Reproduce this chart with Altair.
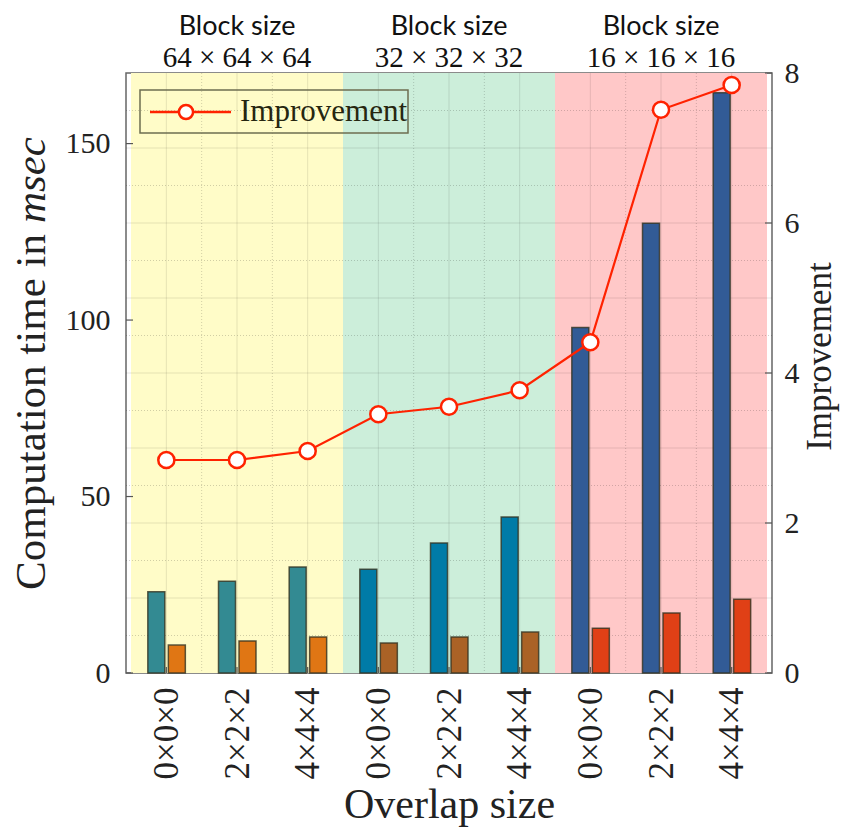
import json
import altair as alt
import pandas as pd

# ---------------- data ----------------
overlap_labels = ["0×0×0", "2×2×2", "4×4×4", "0×0×0", "2×2×2", "4×4×4", "0×0×0", "2×2×2", "4×4×4"]
block_labels = ["64 × 64 × 64", "32 × 32 × 32", "16 × 16 × 16"]
time_a = [23.0, 26.0, 30.0, 29.4, 36.8, 44.2, 97.9, 127.4, 164.4]
time_b = [7.9, 9.1, 10.2, 8.5, 10.2, 11.6, 12.7, 17.0, 20.9]
improvement = [2.84, 2.84, 2.96, 3.45, 3.55, 3.77, 4.41, 7.51, 7.84]
color_a = ["#338A92", "#007BA7", "#325B96"]
color_b = ["#E07614", "#AA6226", "#E04016"]
bg_colors = ["#FFFCC8", "#CCEEDA", "#FFC8C8"]
left_ticks = [0, 50, 100, 150]
right_ticks = [0, 2, 4, 6, 8]
right_grid_major = [1, 2, 3, 4, 5, 6, 7]
right_grid_minor = [0.5, 1.5, 2.5, 3.5, 4.5, 5.5, 6.5, 7.5]
x_grid_major = [1, 2, 3, 4, 5, 6, 7, 8, 9]
x_grid_minor = [1.5, 2.5, 4.5, 5.5, 7.5, 8.5]

W, H = 646, 600
SERIF = "Liberation Serif"
RED = "#FF2200"

n = len(overlap_labels)
df = pd.DataFrame({
    "pos": list(range(1, n + 1)),
    "label": overlap_labels,
    "ta": time_a,
    "tb": time_b,
    "imp": improvement,
    "ca": [color_a[i // 3] for i in range(n)],
    "cb": [color_b[i // 3] for i in range(n)],
})
bg = pd.DataFrame({
    "start": [3 * i + 0.5 for i in range(3)],
    "end": [3 * i + 3.5 for i in range(3)],
    "center": [3 * i + 2 for i in range(3)],
    "block": block_labels,
    "col": bg_colors,
})

label_expr = "%s[datum.value - 1]" % json.dumps(overlap_labels, ensure_ascii=False)
xscale = alt.Scale(domain=[0.5, 9.5], nice=False, zero=False)
xaxis = alt.Axis(values=list(range(1, n + 1)), labelExpr=label_expr, labelAngle=270,
                 labelFont=SERIF, labelFontSize=35, labelColor="#222", labelPadding=14,
                 ticks=False, domain=False, grid=False,
                 title="Overlap size", titleFont=SERIF, titleFontSize=42,
                 titleFontWeight="normal", titleColor="#222", titlePadding=6)


def X(field):
    return alt.X(field, type="quantitative", scale=xscale, axis=xaxis)


lscale = alt.Scale(domain=[0, 170], nice=False, zero=True)
rscale = alt.Scale(domain=[0, 8], nice=False, zero=True)

base = alt.Chart(df)

background = alt.Chart(bg).mark_rect(opacity=1).encode(
    x=X("start"), x2="end", color=alt.Color("col:N", scale=None))

vgrid_major = alt.Chart(pd.DataFrame({"g": x_grid_major})).mark_rule(
    color="#000", opacity=0.10, strokeWidth=1).encode(x=X("g"))
vgrid_minor = alt.Chart(pd.DataFrame({"g": x_grid_minor})).mark_rule(
    color="#000", opacity=0.18, strokeWidth=1, strokeDash=[1, 2]).encode(x=X("g"))

hgrid_major = alt.Chart(pd.DataFrame({"g": right_grid_major})).mark_rule(
    color="#000", opacity=0.10, strokeWidth=1).encode(
    y=alt.Y("g:Q", scale=rscale, axis=None))
hgrid_minor = alt.Chart(pd.DataFrame({"g": right_grid_minor})).mark_rule(
    color="#000", opacity=0.18, strokeWidth=1, strokeDash=[1, 2]).encode(
    y=alt.Y("g:Q", scale=rscale, axis=None))

bars_a = base.mark_bar(size=17, xOffset=-10, stroke="#333322", strokeOpacity=0.8,
                       strokeWidth=1.5).encode(
    x=X("pos"),
    y=alt.Y("ta:Q", scale=lscale,
            axis=alt.Axis(orient="left", values=left_ticks, title=None, grid=False,
                          ticks=False, domain=False, labelFont=SERIF, labelFontSize=30,
                          labelColor="#222", labelPadding=16)),
    color=alt.Color("ca:N", scale=None))

bars_b = base.mark_bar(size=17, xOffset=10.5, stroke="#333322", strokeOpacity=0.8,
                       strokeWidth=1.5).encode(
    x=X("pos"),
    y=alt.Y("tb:Q", scale=lscale, axis=None),
    color=alt.Color("cb:N", scale=None))

line = base.mark_line(color=RED, strokeWidth=2.2).encode(
    x=X("pos"),
    y=alt.Y("imp:Q", scale=rscale,
            axis=alt.Axis(orient="right", values=right_ticks, title="Improvement",
                          titleAngle=270, titleFont=SERIF, titleFontSize=35,
                          titleFontWeight="normal", titleColor="#222", titlePadding=38,
                          titleY=283,
                          grid=False, ticks=False, domain=False, labelFont=SERIF,
                          labelFontSize=30, labelColor="#222", labelPadding=12)))

points = base.mark_point(filled=True, fill="white", stroke=RED, strokeWidth=2.5,
                         size=260, opacity=1, shape="circle").encode(
    x=X("pos"), y=alt.Y("imp:Q", scale=rscale, axis=None))

# ticks (inward)
lt = alt.Chart(pd.DataFrame({"t": left_ticks})).mark_rule(color="#555", strokeWidth=1.2).encode(
    y=alt.Y("t:Q", scale=lscale, axis=None), x=alt.value(0), x2=alt.value(7))
rt = alt.Chart(pd.DataFrame({"t": right_ticks})).mark_rule(color="#555", strokeWidth=1.2).encode(
    y=alt.Y("t:Q", scale=rscale, axis=None), x=alt.value(W - 7), x2=alt.value(W))
bt = alt.Chart(pd.DataFrame({"t": x_grid_major})).mark_rule(color="#555", strokeWidth=1.2).encode(
    x=X("t"), y=alt.value(H - 6), y2=alt.value(H))

# block titles
title1 = alt.Chart(bg).mark_text(font="Lato", fontSize=27, color="#111",
                                 baseline="middle").encode(
    x=X("center"), y=alt.value(-46), text=alt.value("Block size"))
title2 = alt.Chart(bg).mark_text(font=SERIF, fontSize=29, color="#111",
                                 baseline="middle").encode(
    x=X("center"), y=alt.value(-15), text="block:N")

# left axis title (with italic msec)
one = alt.Data(values=[{"k": 1}])
ltitle1 = alt.Chart(one).mark_text(font=SERIF, fontSize=43, angle=270, align="right",
                                   baseline="middle", color="#222").encode(
    x=alt.value(-94), y=alt.value(161), text=alt.value("Computation time in"))
ltitle2 = alt.Chart(one).mark_text(font=SERIF, fontSize=43, angle=270, align="left",
                                   baseline="middle", fontStyle="italic", color="#222").encode(
    x=alt.value(-94), y=alt.value(150), text=alt.value("msec"))

# legend
leg_box = alt.Chart(one).mark_rect(fill=None, fillOpacity=0, stroke="#6E6E50",
                                   strokeWidth=1.5).encode(
    x=alt.value(14), x2=alt.value(282), y=alt.value(17), y2=alt.value(60))
leg_line = alt.Chart(one).mark_rule(color=RED, strokeWidth=2.5).encode(
    x=alt.value(24), x2=alt.value(105), y=alt.value(39))
leg_pt = alt.Chart(one).mark_point(filled=True, fill="white", stroke=RED, strokeWidth=2.5,
                                   size=200, opacity=1, shape="circle").encode(
    x=alt.value(60), y=alt.value(39))
leg_txt = alt.Chart(one).mark_text(font=SERIF, fontSize=31, align="left", baseline="middle",
                                   color="#262610").encode(
    x=alt.value(114), y=alt.value(39), text=alt.value("Improvement"))

chart = alt.layer(
    background, vgrid_major, vgrid_minor, hgrid_major, hgrid_minor,
    bars_a, bars_b, line, points, lt, rt, bt,
    title1, title2, ltitle1, ltitle2, leg_box, leg_line, leg_pt, leg_txt,
).resolve_scale(y="independent").properties(
    width=W, height=H,
    autosize=alt.AutoSizeParams(type="none"),
    padding={"left": 118, "top": 65, "right": 68, "bottom": 155},
).configure_view(stroke="#666", strokeWidth=1.5)

chart.save("out.html", embed_options={"renderer": "svg", "actions": False})
